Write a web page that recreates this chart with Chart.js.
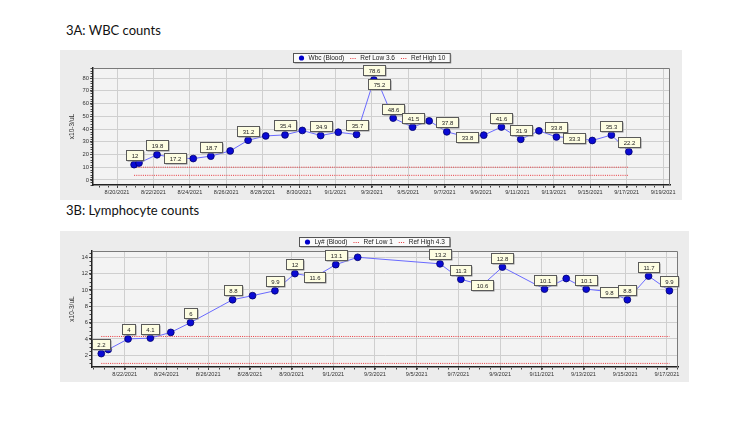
<!DOCTYPE html>
<html>
<head>
<meta charset="utf-8">
<script src="https://cdn.jsdelivr.net/npm/chart.js@4.4.1/dist/chart.umd.min.js"></script>
<style>
  body { margin: 0; background: #fff; }
  #page { position: relative; width: 750px; height: 422px; overflow: hidden; }
  .ttl { position: absolute; left: 66px; font: 13px Lato, "Open Sans", sans-serif; color: #111; line-height: 15px; white-space: nowrap; }
  canvas { position: absolute; background: #ececec; }
</style>
</head>
<body>
<div id="page">
  <div class="ttl" style="top:23px">3A: WBC counts</div>
  <canvas id="wbc" width="622" height="150" style="left:60px;top:50px"></canvas>
  <div class="ttl" style="top:203px">3B: Lymphocyte counts</div>
  <canvas id="lym" width="629" height="151" style="left:60px;top:231px"></canvas>
</div>
<script>
// 3A: WBC
let wbcTimes = ['2021-08-20T22:30', '2021-08-21T05:00', '2021-08-22T04:45', '2021-08-23T05:00', '2021-08-24T04:30',
  '2021-08-25T03:40', '2021-08-26T05:15', '2021-08-27T04:50', '2021-08-28T04:05', '2021-08-29T05:30',
  '2021-08-30T04:20', '2021-08-31T04:30', '2021-09-01T03:40', '2021-09-02T03:50', '2021-09-03T02:40',
  '2021-09-03T09:20', '2021-09-04T04:05', '2021-09-05T05:45', '2021-09-06T03:35', '2021-09-07T02:50',
  '2021-09-08T04:50', '2021-09-09T03:35', '2021-09-10T02:50', '2021-09-11T04:20', '2021-09-12T04:20',
  '2021-09-13T03:20', '2021-09-14T02:10', '2021-09-15T02:40', '2021-09-16T03:50', '2021-09-17T02:50'];
let wbcValues = [12, 13.3, 19.8, 17.2, 16.8, 18.7, 22.8, 31.2, 34.6, 35.4, 38.9, 34.9, 37.5, 35.7, 78.6,
  75.2, 48.6, 41.5, 46.4, 37.8, 33.8, 35.2, 41.6, 31.9, 38.6, 33.8, 33.3, 31.0, 35.3, 22.2];
let wbcTags = ['12', '', '19.8', '17.2', '', '18.7', '', '31.2', '', '35.4', '', '34.9', '', '35.7', '78.6',
  '75.2', '48.6', '41.5', '', '37.8', '33.8', '', '41.6', '31.9', '', '33.8', '33.3', '', '35.3', '22.2'];
let wbcRefLow = 3.6;
let wbcRefHigh = 10;

// 3B: Lymphocytes
let lymTimes = ['2021-08-20T21:00', '2021-08-21T05:00', '2021-08-22T03:50', '2021-08-23T05:30', '2021-08-24T05:00',
  '2021-08-25T03:40', '2021-08-27T04:05', '2021-08-28T03:05', '2021-08-29T04:50', '2021-08-30T03:50',
  '2021-08-31T02:50', '2021-09-01T02:50', '2021-09-02T04:05', '2021-09-06T02:50', '2021-09-07T02:50',
  '2021-09-08T03:35', '2021-09-09T02:40', '2021-09-11T03:05', '2021-09-12T04:05', '2021-09-13T03:05',
  '2021-09-14T04:50', '2021-09-15T02:25', '2021-09-16T02:50', '2021-09-17T02:50'];
let lymValues = [2.2, 2.7, 4.0, 4.1, 4.8, 6.0, 8.8, 9.3, 9.9, 12.0, 11.6, 13.1, 14.0, 13.2, 11.3,
  10.6, 12.8, 10.1, 11.4, 10.1, 9.8, 8.8, 11.7, 9.9];
let lymTags = ['2.2', '', '4', '4.1', '', '6', '8.8', '', '9.9', '12', '11.6', '13.1', '', '13.2', '11.3',
  '10.6', '12.8', '10.1', '', '10.1', '9.8', '8.8', '11.7', '9.9'];
let lymRefLow = 1;
let lymRefHigh = 4.3;

const DAY0 = Date.parse('2021-08-20T00:00');
function toDay(s) { return (Date.parse(s) - DAY0) / 864e5; }
function dateLabel(v) {
  let d = new Date(2021, 7, 20 + Math.round(v));
  return (d.getMonth() + 1) + '/' + d.getDate() + '/' + d.getFullYear();
}

Chart.defaults.font.family = '"Liberation Sans", Arial, sans-serif';
Chart.defaults.color = '#333';

const decor = {
  id: 'decor',
  beforeDraw(chart) {
    let a = chart.chartArea, ctx = chart.ctx;
    ctx.save();
    ctx.fillStyle = '#f3f3f3';
    ctx.fillRect(a.left, a.top, a.right - a.left, a.bottom - a.top);
    ctx.restore();
  },
  afterDraw(chart, args, opts) {
    let ctx = chart.ctx, a = chart.chartArea, sx = chart.scales.x, sy = chart.scales.y;
    ctx.save();
    // frame top / right
    ctx.strokeStyle = '#7a7a7a';
    ctx.lineWidth = 1;
    ctx.beginPath();
    ctx.moveTo(a.left, a.top + 0.5);
    ctx.lineTo(a.right - 0.5, a.top + 0.5);
    ctx.lineTo(a.right - 0.5, a.bottom);
    ctx.stroke();

    // minor ticks
    ctx.strokeStyle = '#444';
    ctx.beginPath();
    for (let v = Math.ceil(sx.min / opts.xMinor) * opts.xMinor; v <= sx.max; v += opts.xMinor) {
      let px = Math.round(sx.getPixelForValue(v)) + 0.5;
      ctx.moveTo(px, a.bottom + 1);
      ctx.lineTo(px, a.bottom + 2.5);
    }
    for (let v = Math.ceil(sy.min / opts.yMinor) * opts.yMinor; v <= sy.max; v += opts.yMinor) {
      let py = Math.round(sy.getPixelForValue(v)) + 0.5;
      ctx.moveTo(a.left - 2.5, py);
      ctx.lineTo(a.left - 1, py);
    }
    ctx.stroke();

    // value tags
    let meta = chart.getDatasetMeta(0);
    ctx.font = '6px "Liberation Sans", Arial, sans-serif';
    ctx.textAlign = 'center';
    ctx.textBaseline = 'middle';
    opts.tags.forEach((t, i) => {
      if (!t) return;
      let p = meta.data[i];
      let w = Math.round(ctx.measureText(t).width + 10), h = 10;
      let cy = opts.onPoint.includes(i) ? p.y : p.y - 9.5;
      let bx = Math.round(p.x - w / 2) + 0.5, by = Math.round(cy - h / 2) + 0.5;
      ctx.fillStyle = '#8f8f8f';
      ctx.fillRect(bx + 1, by + 1, w, h);
      ctx.fillStyle = '#fdfde2';
      ctx.fillRect(bx, by, w, h);
      ctx.strokeStyle = '#5a5a5a';
      ctx.strokeRect(bx, by, w, h);
      ctx.fillStyle = '#222';
      ctx.fillText(t, bx + w / 2, by + h / 2 + 0.5);
    });

    // legend box
    let items = chart.data.datasets.map(d => ({ text: d.label, dot: d.pointRadius !== 0, color: d.borderColor }));
    ctx.font = '6.5px "Liberation Sans", Arial, sans-serif';
    ctx.textAlign = 'left';
    let pad = 5, mark = 6, gap = 4, sep = 6;
    let total = pad * 2 + sep * (items.length - 1);
    items.forEach(it => { it.w = ctx.measureText(it.text).width; total += mark + gap + it.w; });
    let lx = Math.round(chart.width / 2 - total / 2) + 0.5, ly = opts.legendTop + 0.5, lh = 9;
    ctx.fillStyle = '#8f8f8f';
    ctx.fillRect(lx + 1, ly + 1, total, lh);
    ctx.fillStyle = '#fafafa';
    ctx.fillRect(lx, ly, total, lh);
    ctx.strokeStyle = '#555';
    ctx.strokeRect(lx, ly, total, lh);
    let x = lx + pad, cy = ly + lh / 2;
    items.forEach(it => {
      if (it.dot) {
        ctx.fillStyle = '#0000cc';
        ctx.beginPath();
        ctx.arc(x + mark / 2, cy, 2.6, 0, Math.PI * 2);
        ctx.fill();
      } else {
        ctx.strokeStyle = it.color;
        ctx.setLineDash([1, 1.2]);
        ctx.beginPath();
        ctx.moveTo(x, Math.round(cy) + 0.5);
        ctx.lineTo(x + mark, Math.round(cy) + 0.5);
        ctx.stroke();
        ctx.setLineDash([]);
      }
      x += mark + gap;
      ctx.fillStyle = '#222';
      ctx.fillText(it.text, x, cy + 0.5);
      x += it.w + sep;
    });
    ctx.restore();
  }
};

function makeChart(id, cfg) {
  let pts = cfg.times.map((t, i) => ({ x: toDay(t), y: cfg.values[i] }));
  let x0 = pts[0].x, x1 = pts[pts.length - 1].x;
  let refLine = (label, v) => ({
    label: label, data: [{ x: x0, y: v }, { x: x1, y: v }],
    borderColor: '#e8383d', borderWidth: 1, borderDash: [1, 1.2], pointRadius: 0, fill: false
  });
  return new Chart(document.getElementById(id), {
    type: 'line',
    data: {
      datasets: [
        {
          label: cfg.name, data: pts, borderColor: '#6a6aff', borderWidth: 1, tension: 0,
          pointRadius: 3.4, pointBackgroundColor: '#0a0ad4', pointBorderColor: '#00006a', pointBorderWidth: 0.8
        },
        refLine('Ref Low ' + cfg.refLow, cfg.refLow),
        refLine('Ref High ' + cfg.refHigh, cfg.refHigh)
      ]
    },
    options: {
      responsive: false,
      animation: false,
      events: [],
      layout: { padding: cfg.padding },
      scales: {
        x: {
          type: 'linear', min: cfg.xMin, max: cfg.xMax,
          afterFit: s => { s.height = cfg.xHeight; },
          ticks: { stepSize: 2, includeBounds: false, autoSkip: false, maxRotation: 0, padding: 1,
            font: { size: 5.6 }, color: '#333', callback: v => dateLabel(v) },
          grid: { color: '#cfcfcf', tickLength: 3, tickColor: '#444' },
          border: { color: '#222', width: 1.5 }
        },
        y: {
          min: cfg.yMin, max: cfg.yMax,
          afterFit: s => { s.width = cfg.yWidth; },
          ticks: { stepSize: cfg.yStep, includeBounds: false, padding: 1, font: { size: 5.8 }, color: '#333' },
          grid: { color: '#cfcfcf', tickLength: 3, tickColor: '#444' },
          border: { color: '#222', width: 1.5 },
          title: { display: true, text: 'x10-3/uL', font: { size: 6.5 }, color: '#333', padding: { top: 8, bottom: 0 } }
        }
      },
      plugins: {
        legend: { display: false },
        tooltip: { enabled: false },
        decor: { tags: cfg.tags, onPoint: cfg.onPoint, xMinor: 0.5, yMinor: cfg.yMinor, legendTop: cfg.legendTop }
      }
    },
    plugins: [decor]
  });
}

makeChart('wbc', {
  name: 'Wbc (Blood)', times: wbcTimes, values: wbcValues, tags: wbcTags, onPoint: [3, 15, 20, 26],
  refLow: wbcRefLow, refHigh: wbcRefHigh,
  xMin: -1.32, xMax: 30.38, yMin: -4, yMax: 88, yStep: 10, yMinor: 2,
  padding: { top: 18, right: 12, left: 0, bottom: 0 }, xHeight: 15, yWidth: 33, legendTop: 3
});

makeChart('lym', {
  name: 'Ly# (Blood)', times: lymTimes, values: lymValues, tags: lymTags, onPoint: [10, 15, 20],
  refLow: lymRefLow, refHigh: lymRefHigh,
  xMin: 0.43, xMax: 28.53, yMin: 0.56, yMax: 14.77, yStep: 2, yMinor: 0.5,
  padding: { top: 20, right: 11, left: 0, bottom: 0 }, xHeight: 15, yWidth: 32, legendTop: 6
});
</script>
</body>
</html>
